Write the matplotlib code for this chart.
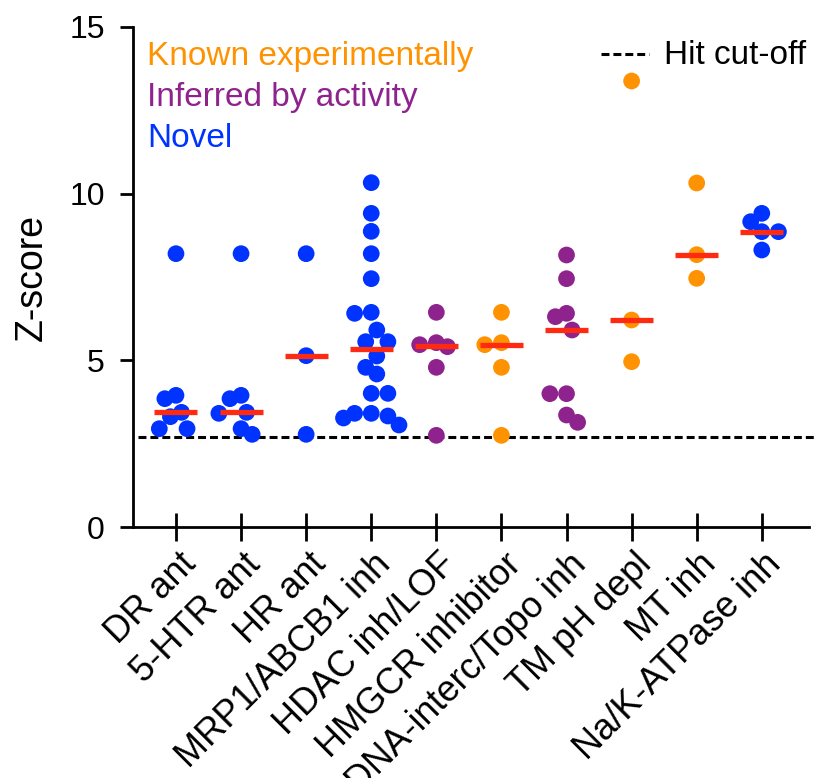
import numpy as np
import matplotlib
matplotlib.use("Agg")
import matplotlib.pyplot as plt
import matplotlib.transforms as mtransforms
from matplotlib.lines import Line2D

plt.rcParams['font.family'] = ['Liberation Sans', 'DejaVu Sans']

# Данные (Z-score по группам)
categories = ["DR ant", "5-HTR ant", "HR ant", "MRP1/ABCB1 inh", "HDAC inh/LOF",
              "HMGCR inhibitor", "DNA-interc/Topo inh", "TM pH depl", "MT inh",
              "Na/K-ATPase inh"]
dr_ant = [8.2, 3.95, 3.85, 3.44, 3.31, 2.95, 2.95]
htr_ant = [8.2, 3.95, 3.85, 3.44, 3.41, 2.95, 2.78]
hr_ant = [8.2, 5.14, 2.78]
mrp1_inh = [10.33, 9.41, 8.87, 8.2, 7.45, 6.44, 6.41, 5.91, 5.56, 5.56,
            5.13, 4.79, 4.59, 4.01, 4.01, 3.41, 3.41, 3.33, 3.27, 3.06]
hdac_inh = [6.44, 5.53, 5.47, 5.41, 4.79, 2.75]
hmgcr_inh = [6.44, 5.53, 5.47, 4.79, 2.75]
dna_topo = [8.16, 7.45, 6.41, 6.31, 5.91, 4.0, 4.0, 3.36, 3.14]
tm_ph = [13.38, 6.21, 4.96]
mt_inh = [10.32, 8.17, 7.46]
nak_inh = [9.41, 9.16, 8.86, 8.86, 8.31]
groups = [dr_ant, htr_ant, hr_ant, mrp1_inh, hdac_inh, hmgcr_inh, dna_topo,
          tm_ph, mt_inh, nak_inh]
# тип группы: 0 - known, 1 - inferred, 2 - novel
group_kind = [2, 2, 2, 2, 1, 0, 1, 0, 0, 2]
hit_cutoff = 2.7

kind_colors = ["#FF9200", "#8E238E", "#0033FF"]
kind_names = ["Known experimentally", "Inferred by activity", "Novel"]
median_color = "#FF2A12"

fig = plt.figure(figsize=(8.16, 7.78), dpi=100)
ax = fig.add_axes([0.163, 0.3226, 0.828, 0.6427])
ax.set_xlim(-0.66, 9.72)
ax.set_ylim(0, 15)

# пикселей на единицу данных - нужно для раскладки точек (swarm)
bb = ax.get_window_extent()
px_x = bb.width / (9.72 + 0.66)
px_y = bb.height / 15.0
diam = 15.0  # диаметр маркера, px


def swarm_offsets(vals):
    """Раскладка точек: эллиптическая зона "столкновения" (шире по y)."""
    order = np.argsort(vals)[::-1]
    placed = []
    offs = np.zeros(len(vals))
    step = 0.37 * diam
    rx, ry = 0.75 * diam, 1.2 * diam
    side = 1
    for i in order:
        y = vals[i] * px_y
        cands = [0.0]
        for k in range(1, 14):
            cands += [-side * k * step, side * k * step]
        for c in cands:
            ok = True
            for (px, py) in placed:
                if ((px - c) / rx) ** 2 + ((py - y) / ry) ** 2 < 1:
                    ok = False
                    break
            if ok:
                break
        if c != 0:
            side = -side
        placed.append((c, y))
        offs[i] = c / px_x
    return offs


for i, vals in enumerate(groups):
    vals = np.array(vals)
    xs = i + swarm_offsets(vals)
    ax.scatter(xs, vals, s=145, color=kind_colors[group_kind[i]],
               edgecolors='none', zorder=3, clip_on=False)
    med = np.median(vals)
    ax.plot([i - 0.33, i + 0.33], [med, med], color=median_color, lw=3.8,
            solid_capstyle='butt', zorder=4)

ax.plot([-0.58, 9.83], [hit_cutoff, hit_cutoff], color='black', lw=2.2,
        dashes=(2.6, 1.3), clip_on=False, zorder=2)

for s in ['top', 'right']:
    ax.spines[s].set_visible(False)
for s in ['left', 'bottom']:
    ax.spines[s].set_linewidth(2)

ax.set_yticks([0, 5, 10, 15])
ax.tick_params(axis='y', direction='out', length=9.4, width=2, pad=11,
               labelsize=23)
ax.set_xticks(range(len(categories)))
ax.set_xticklabels(categories, rotation=45, ha='right',
                   rotation_mode='anchor', fontsize=26)
ax.tick_params(axis='x', direction='inout', length=19.5, width=2, pad=3)
shift = mtransforms.ScaledTranslation(2 / 100, -2 / 100, fig.dpi_scale_trans)
for lab in ax.get_xticklabels():
    lab.set_transform(lab.get_transform() + shift)
ax.set_ylabel("Z-score", fontsize=27, labelpad=14)

# подписи-легенда
for k in range(3):
    fig.text(147 / 816, 1 - (65 + 41 * k) / 778, kind_names[k],
             color=kind_colors[k], fontsize=24, va='baseline', ha='left')

fig.add_artist(Line2D([601 / 816, 649 / 816], [1 - 54 / 778, 1 - 54 / 778],
                      color='black', lw=2.2, dashes=(2.6, 1.3)))
fig.text(664 / 816, 1 - 64 / 778, "Hit cut-off", fontsize=24,
         va='baseline', ha='left')

fig.savefig("out.png", dpi=100)
